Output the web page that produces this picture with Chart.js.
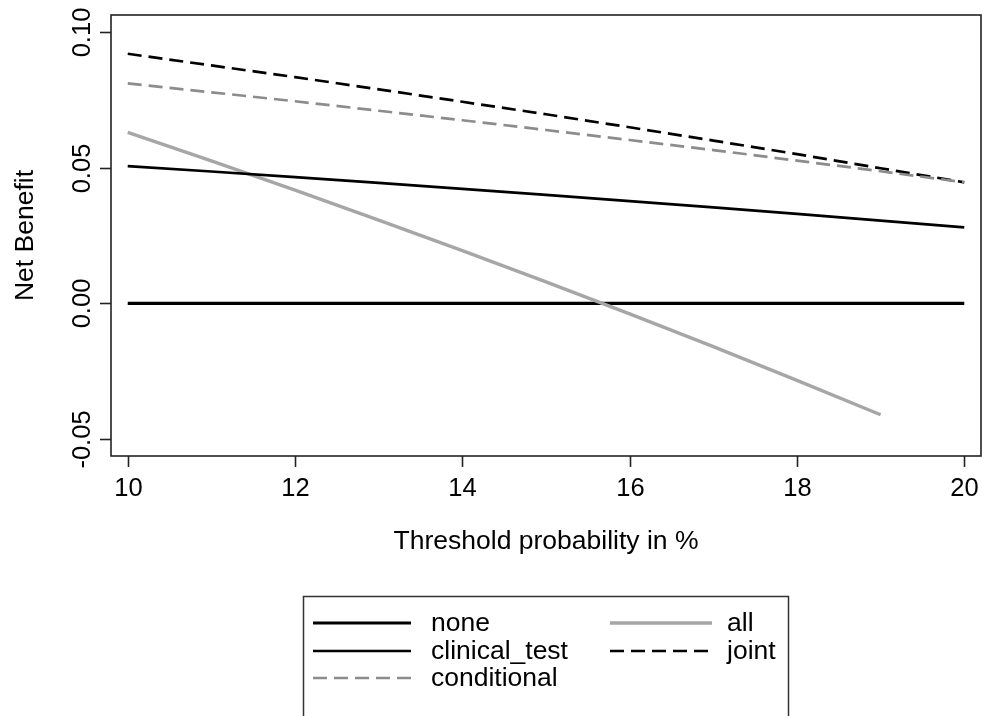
<!DOCTYPE html>
<html>
<head>
<meta charset="utf-8">
<script src="https://cdn.jsdelivr.net/npm/chart.js@4/dist/chart.umd.min.js"></script>
<style>
html,body{margin:0;padding:0;background:#fff;}
#c{display:block;}
</style>
</head>
<body>
<canvas id="c" width="982" height="716"></canvas>
<script>
// ---- data ----
const thresholds = [10, 11, 12, 13, 14, 15, 16, 17, 18, 19, 20];
const allThresholds = [10, 11, 12, 13, 14, 15, 16, 17, 18, 19];
const noneNB = [0, 0, 0, 0, 0, 0, 0, 0, 0, 0, 0];
const allNB = [0.0630, 0.0525, 0.0417, 0.0307, 0.0194, 0.0079, -0.0039, -0.0160, -0.0284, -0.0411];
const clinicalNB = [0.0506, 0.0486, 0.0465, 0.0444, 0.0422, 0.0400, 0.0377, 0.0354, 0.0330, 0.0305, 0.0280];
const jointNB = [0.0920, 0.0877, 0.0834, 0.0789, 0.0743, 0.0697, 0.0649, 0.0600, 0.0550, 0.0498, 0.0446];
const conditionalNB = [0.0811, 0.0778, 0.0745, 0.0710, 0.0675, 0.0639, 0.0602, 0.0565, 0.0526, 0.0487, 0.0446];
const xTicks = [10, 12, 14, 16, 18, 20];
const xTickLabels = ['10', '12', '14', '16', '18', '20'];
const yTicks = [-0.05, 0, 0.05, 0.10];
const yTickLabels = ['-0.05', '0.00', '0.05', '0.10'];
const seriesNames = ['none', 'all', 'clinical_test', 'joint', 'conditional'];
const xTitle = 'Threshold probability in %';
const yTitle = 'Net Benefit';

function pts(xs, ys) { return xs.map((x, i) => ({ x: x, y: ys[i] })); }

const FONT = '"Liberation Sans", Arial, sans-serif';
const AXC = '#222';

const axesPlugin = {
  id: 'rAxes',
  afterDatasetsDraw(chart) {
    const ctx = chart.ctx, a = chart.chartArea;
    const xs = chart.scales.x, ys = chart.scales.y;
    ctx.save();
    ctx.strokeStyle = AXC;
    ctx.lineWidth = 1.6;
    ctx.strokeRect(a.left, a.top, a.right - a.left, a.bottom - a.top);
    ctx.fillStyle = '#000';
    // x ticks
    ctx.font = '25.5px ' + FONT;
    ctx.textAlign = 'center';
    ctx.textBaseline = 'alphabetic';
    xTicks.forEach((v, i) => {
      const px = Math.round(xs.getPixelForValue(v)) + 0.5;
      ctx.beginPath(); ctx.moveTo(px, a.bottom); ctx.lineTo(px, a.bottom + 11); ctx.stroke();
      ctx.fillText(xTickLabels[i], px, 496);
    });
    // y ticks (rotated labels)
    yTicks.forEach((v, i) => {
      const py = Math.round(ys.getPixelForValue(v)) + 0.5;
      ctx.beginPath(); ctx.moveTo(a.left, py); ctx.lineTo(a.left - 11, py); ctx.stroke();
      ctx.save();
      ctx.translate(90, py);
      ctx.rotate(-Math.PI / 2);
      ctx.fillText(yTickLabels[i], 0, 0);
      ctx.restore();
    });
    // titles
    ctx.font = '26.5px ' + FONT;
    ctx.fillText(xTitle, (xs.getPixelForValue(10) + xs.getPixelForValue(20)) / 2, 549);
    ctx.save();
    ctx.translate(33, (a.top + a.bottom) / 2);
    ctx.rotate(-Math.PI / 2);
    ctx.fillText(yTitle, 0, 0);
    ctx.restore();

    // legend (R style, two columns filled by row)
    const ds = chart.data.datasets;
    ctx.strokeStyle = '#333';
    ctx.lineWidth = 1.5;
    ctx.strokeRect(303.5, 596.5, 485, 140);
    const cols = [{ x0: 313, x1: 411, tx: 431 }, { x0: 610, x1: 712, tx: 727 }];
    const rows = [623, 651, 678];
    ctx.font = '26.5px ' + FONT;
    ctx.textAlign = 'left';
    ctx.textBaseline = 'middle';
    ds.forEach((d, i) => {
      const c = cols[i % 2], y = rows[Math.floor(i / 2)];
      ctx.save();
      ctx.strokeStyle = d.borderColor;
      ctx.lineWidth = d.borderWidth;
      ctx.setLineDash(d.borderDash || []);
      ctx.beginPath(); ctx.moveTo(c.x0, y); ctx.lineTo(c.x1, y); ctx.stroke();
      ctx.restore();
      ctx.fillStyle = '#000';
      ctx.fillText(d.label, c.tx, y + 1);
    });
    ctx.restore();
  }
};

const common = { pointRadius: 0, pointHoverRadius: 0, tension: 0, fill: false, borderCapStyle: 'butt' };

new Chart(document.getElementById('c'), {
  type: 'line',
  data: {
    datasets: [
      Object.assign({ label: seriesNames[0], data: pts(thresholds, noneNB), borderColor: '#000000', borderWidth: 3.2, order: 5 }, common),
      Object.assign({ label: seriesNames[1], data: pts(allThresholds, allNB), borderColor: '#a6a6a6', borderWidth: 3.4, order: 4 }, common),
      Object.assign({ label: seriesNames[2], data: pts(thresholds, clinicalNB), borderColor: '#000000', borderWidth: 2.7, order: 3 }, common),
      Object.assign({ label: seriesNames[3], data: pts(thresholds, jointNB), borderColor: '#000000', borderWidth: 2.7, borderDash: [14, 7], order: 2 }, common),
      Object.assign({ label: seriesNames[4], data: pts(thresholds, conditionalNB), borderColor: '#8c8c8c', borderWidth: 2.7, borderDash: [14, 7], order: 1 }, common)
    ]
  },
  options: {
    responsive: false,
    animation: false,
    events: [],
    layout: { padding: { left: 111, top: 15, right: 1, bottom: 260 } },
    plugins: { legend: { display: false }, tooltip: { enabled: false }, title: { display: false } },
    scales: {
      x: { type: 'linear', min: 9.8, max: 20.2, display: false },
      y: { type: 'linear', min: -0.0563, max: 0.1063, display: false }
    }
  },
  plugins: [axesPlugin]
});
</script>
</body>
</html>
